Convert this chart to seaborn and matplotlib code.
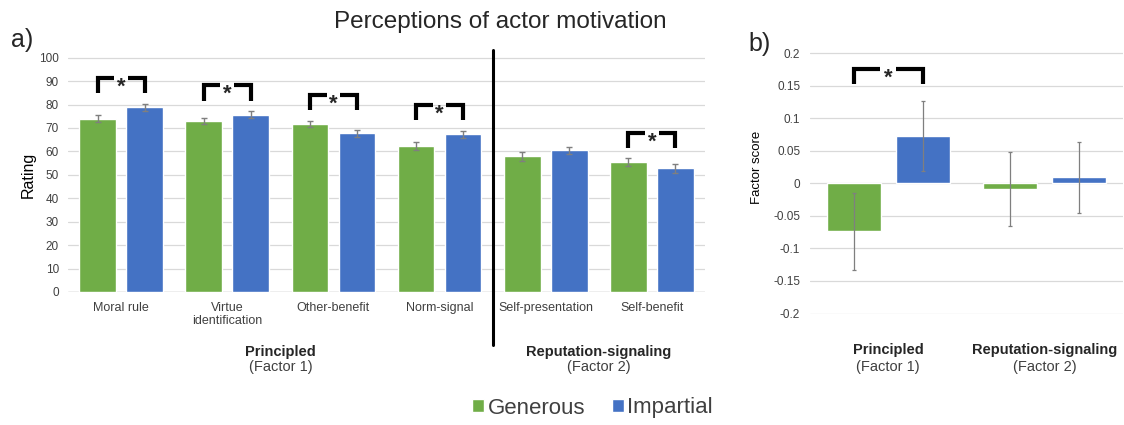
import numpy as np
import pandas as pd
import matplotlib
matplotlib.use("Agg")
import matplotlib.pyplot as plt
import matplotlib.transforms as mtransforms
import seaborn as sns

# panel a: ratings per motive
motives = ["Moral rule", "Virtue\nidentification", "Other-benefit", "Norm-signal",
           "Self-presentation", "Self-benefit"]
generous_rating = [74.0, 72.9, 71.7, 62.3, 57.9, 55.5]
impartial_rating = [78.8, 75.7, 67.7, 67.3, 60.4, 52.8]
generous_err = [1.6, 1.3, 1.3, 1.5, 2.0, 1.6]
impartial_err = [1.4, 1.5, 1.6, 1.5, 1.6, 2.0]
motive_sig = [True, True, True, True, False, True]

# panel b: factor scores
factors = ["Principled", "Reputation-signaling"]
factor_sub = ["(Factor 1)", "(Factor 2)"]
generous_score = [-0.074, -0.009]
impartial_score = [0.073, 0.009]
generous_score_err = [0.059, 0.057]
impartial_score_err = [0.054, 0.054]
factor_sig = [True, False]

groups = ["Generous", "Impartial"]
GREEN = "#70AD47"
BLUE = "#4472C4"
TXT = "#404040"

sns.set_style("white")
plt.rcParams["font.family"] = ["Liberation Sans", "DejaVu Sans"]
plt.rcParams["axes.unicode_minus"] = False


def draw_bars(ax, cats, gen, imp, gen_err, imp_err, capsize, elw):
    df = pd.DataFrame({
        "cat": cats * 2,
        "group": [groups[0]] * len(cats) + [groups[1]] * len(cats),
        "value": gen + imp,
    })
    sns.barplot(data=df, x="cat", y="value", hue="group", order=cats, hue_order=groups,
                palette=[GREEN, BLUE], width=0.886, gap=0.22, errorbar=None,
                saturation=1, legend=False, ax=ax, zorder=2)
    centers = []
    for cont, vals, errs in zip(ax.containers, [gen, imp], [gen_err, imp_err]):
        xs = [b.get_x() + b.get_width() / 2 for b in cont]
        ax.errorbar(xs, vals, yerr=errs, fmt="none", ecolor="#7f7f7f", elinewidth=elw,
                    capsize=capsize, capthick=elw, zorder=3)
        centers.append(xs)
    return centers


def draw_brackets(ax, centers, gen, imp, sig, rise, height, gap):
    for i, s in enumerate(sig):
        if not s:
            continue
        x1, x2 = centers[0][i], centers[1][i]
        top = max(gen[i], imp[i]) + rise
        xm = (x1 + x2) / 2
        kw = dict(color="black", lw=3, solid_capstyle="butt", solid_joinstyle="miter",
                  clip_on=False, zorder=4)
        ax.plot([x1, x1, xm - gap], [top - height, top, top], **kw)
        ax.plot([xm + gap, x2, x2], [top, top, top - height], **kw)
        ax.annotate("*", xy=(xm, top), xytext=(0, -10.5), textcoords="offset points",
                    ha="center", va="baseline", fontsize=16, fontweight="bold")


def style_axes(ax, ncat):
    sns.despine(ax=ax, left=True, bottom=True)
    ax.yaxis.grid(True, color="#d9d9d9", lw=0.9)
    ax.set_axisbelow(True)
    ax.set_xlabel("")
    ax.set_xlim(-0.5, ncat - 0.5)
    ax.tick_params(axis="both", length=0, labelcolor=TXT)


fig = plt.figure(figsize=(11.24, 4.25), dpi=100)

# ---- panel a
ax_a = fig.add_axes([0.0605, 0.313, 0.5667, 0.553])
cen_a = draw_bars(ax_a, motives, generous_rating, impartial_rating,
                  generous_err, impartial_err, capsize=2.5, elw=1)
ax_a.set_ylim(0, 100.3)
ax_a.set_yticks(np.arange(0, 101, 10))
ax_a.tick_params(axis="y", labelsize=8.5, pad=6.5)
ax_a.tick_params(axis="x", labelsize=9, pad=7)
ax_a.axhline(0, color="#bfbfbf", lw=1, zorder=1)
ax_a.set_ylabel("Rating", fontsize=11.5, color="black")
ax_a.yaxis.set_label_coords(-0.05, 0.5)
draw_brackets(ax_a, cen_a, generous_rating, impartial_rating, motive_sig,
              rise=12.5, height=6.5, gap=0.065)
ax_a.plot([3.5, 3.5], [1.03, -0.226], transform=ax_a.get_xaxis_transform(),
          color="black", lw=2.2, clip_on=False)
style_axes(ax_a, len(motives))

tr_a = mtransforms.blended_transform_factory(ax_a.transData, fig.transFigure)
ax_a.text(1.5, 0.172, "Principled", transform=tr_a, ha="center", va="center",
          fontsize=10.5, fontweight="bold")
ax_a.text(1.5, 0.136, factor_sub[0], transform=tr_a, ha="center", va="center",
          fontsize=10.5, color=TXT)
ax_a.text(4.5, 0.172, "Reputation-signaling", transform=tr_a, ha="center", va="center",
          fontsize=10.5, fontweight="bold")
ax_a.text(4.5, 0.136, factor_sub[1], transform=tr_a, ha="center", va="center",
          fontsize=10.5, color=TXT)

# ---- panel b
ax_b = fig.add_axes([0.7206, 0.2605, 0.2785, 0.6165])
cen_b = draw_bars(ax_b, factors, generous_score, impartial_score,
                  generous_score_err, impartial_score_err, capsize=1.5, elw=0.9)
ax_b.set_ylim(-0.2012, 0.2012)
ticks_b = np.arange(-0.2, 0.201, 0.05)
ax_b.set_yticks(ticks_b)
ax_b.set_yticklabels([f"{round(v, 2) + 0:g}" for v in ticks_b])
ax_b.tick_params(axis="y", labelsize=8.5, pad=7)
ax_b.set_xticklabels([])
ax_b.set_ylabel("Factor score", fontsize=9.5, color="black")
ax_b.yaxis.set_label_coords(-0.15, 0.56)
draw_brackets(ax_b, cen_b, generous_score, impartial_score, factor_sig,
              rise=0.102, height=0.022, gap=0.05)
style_axes(ax_b, len(factors))

tr_b = mtransforms.blended_transform_factory(ax_b.transData, fig.transFigure)
for i, (name, sub) in enumerate(zip(factors, factor_sub)):
    ax_b.text(i, 0.177, name, transform=tr_b, ha="center", va="center",
              fontsize=10.5, fontweight="bold")
    ax_b.text(i, 0.136, sub, transform=tr_b, ha="center", va="center",
              fontsize=10.5, color=TXT)

# ---- figure text
fig.text(0.445, 0.948, "Perceptions of actor motivation", ha="center", va="center",
         fontsize=17.5)
fig.text(0.0196, 0.905, "a)", ha="center", va="center", fontsize=18)
fig.text(0.676, 0.897, "b)", ha="center", va="center", fontsize=18)

fig.legend(handles=[ax_a.containers[0], ax_a.containers[1]], labels=groups,
           loc="center", bbox_to_anchor=(0.527, 0.04), ncol=2, frameon=False,
           fontsize=16, handlelength=0.55, handleheight=0.55, handletextpad=0.15,
           columnspacing=1.2, labelcolor=TXT)

fig.savefig("out.png", dpi=100)
